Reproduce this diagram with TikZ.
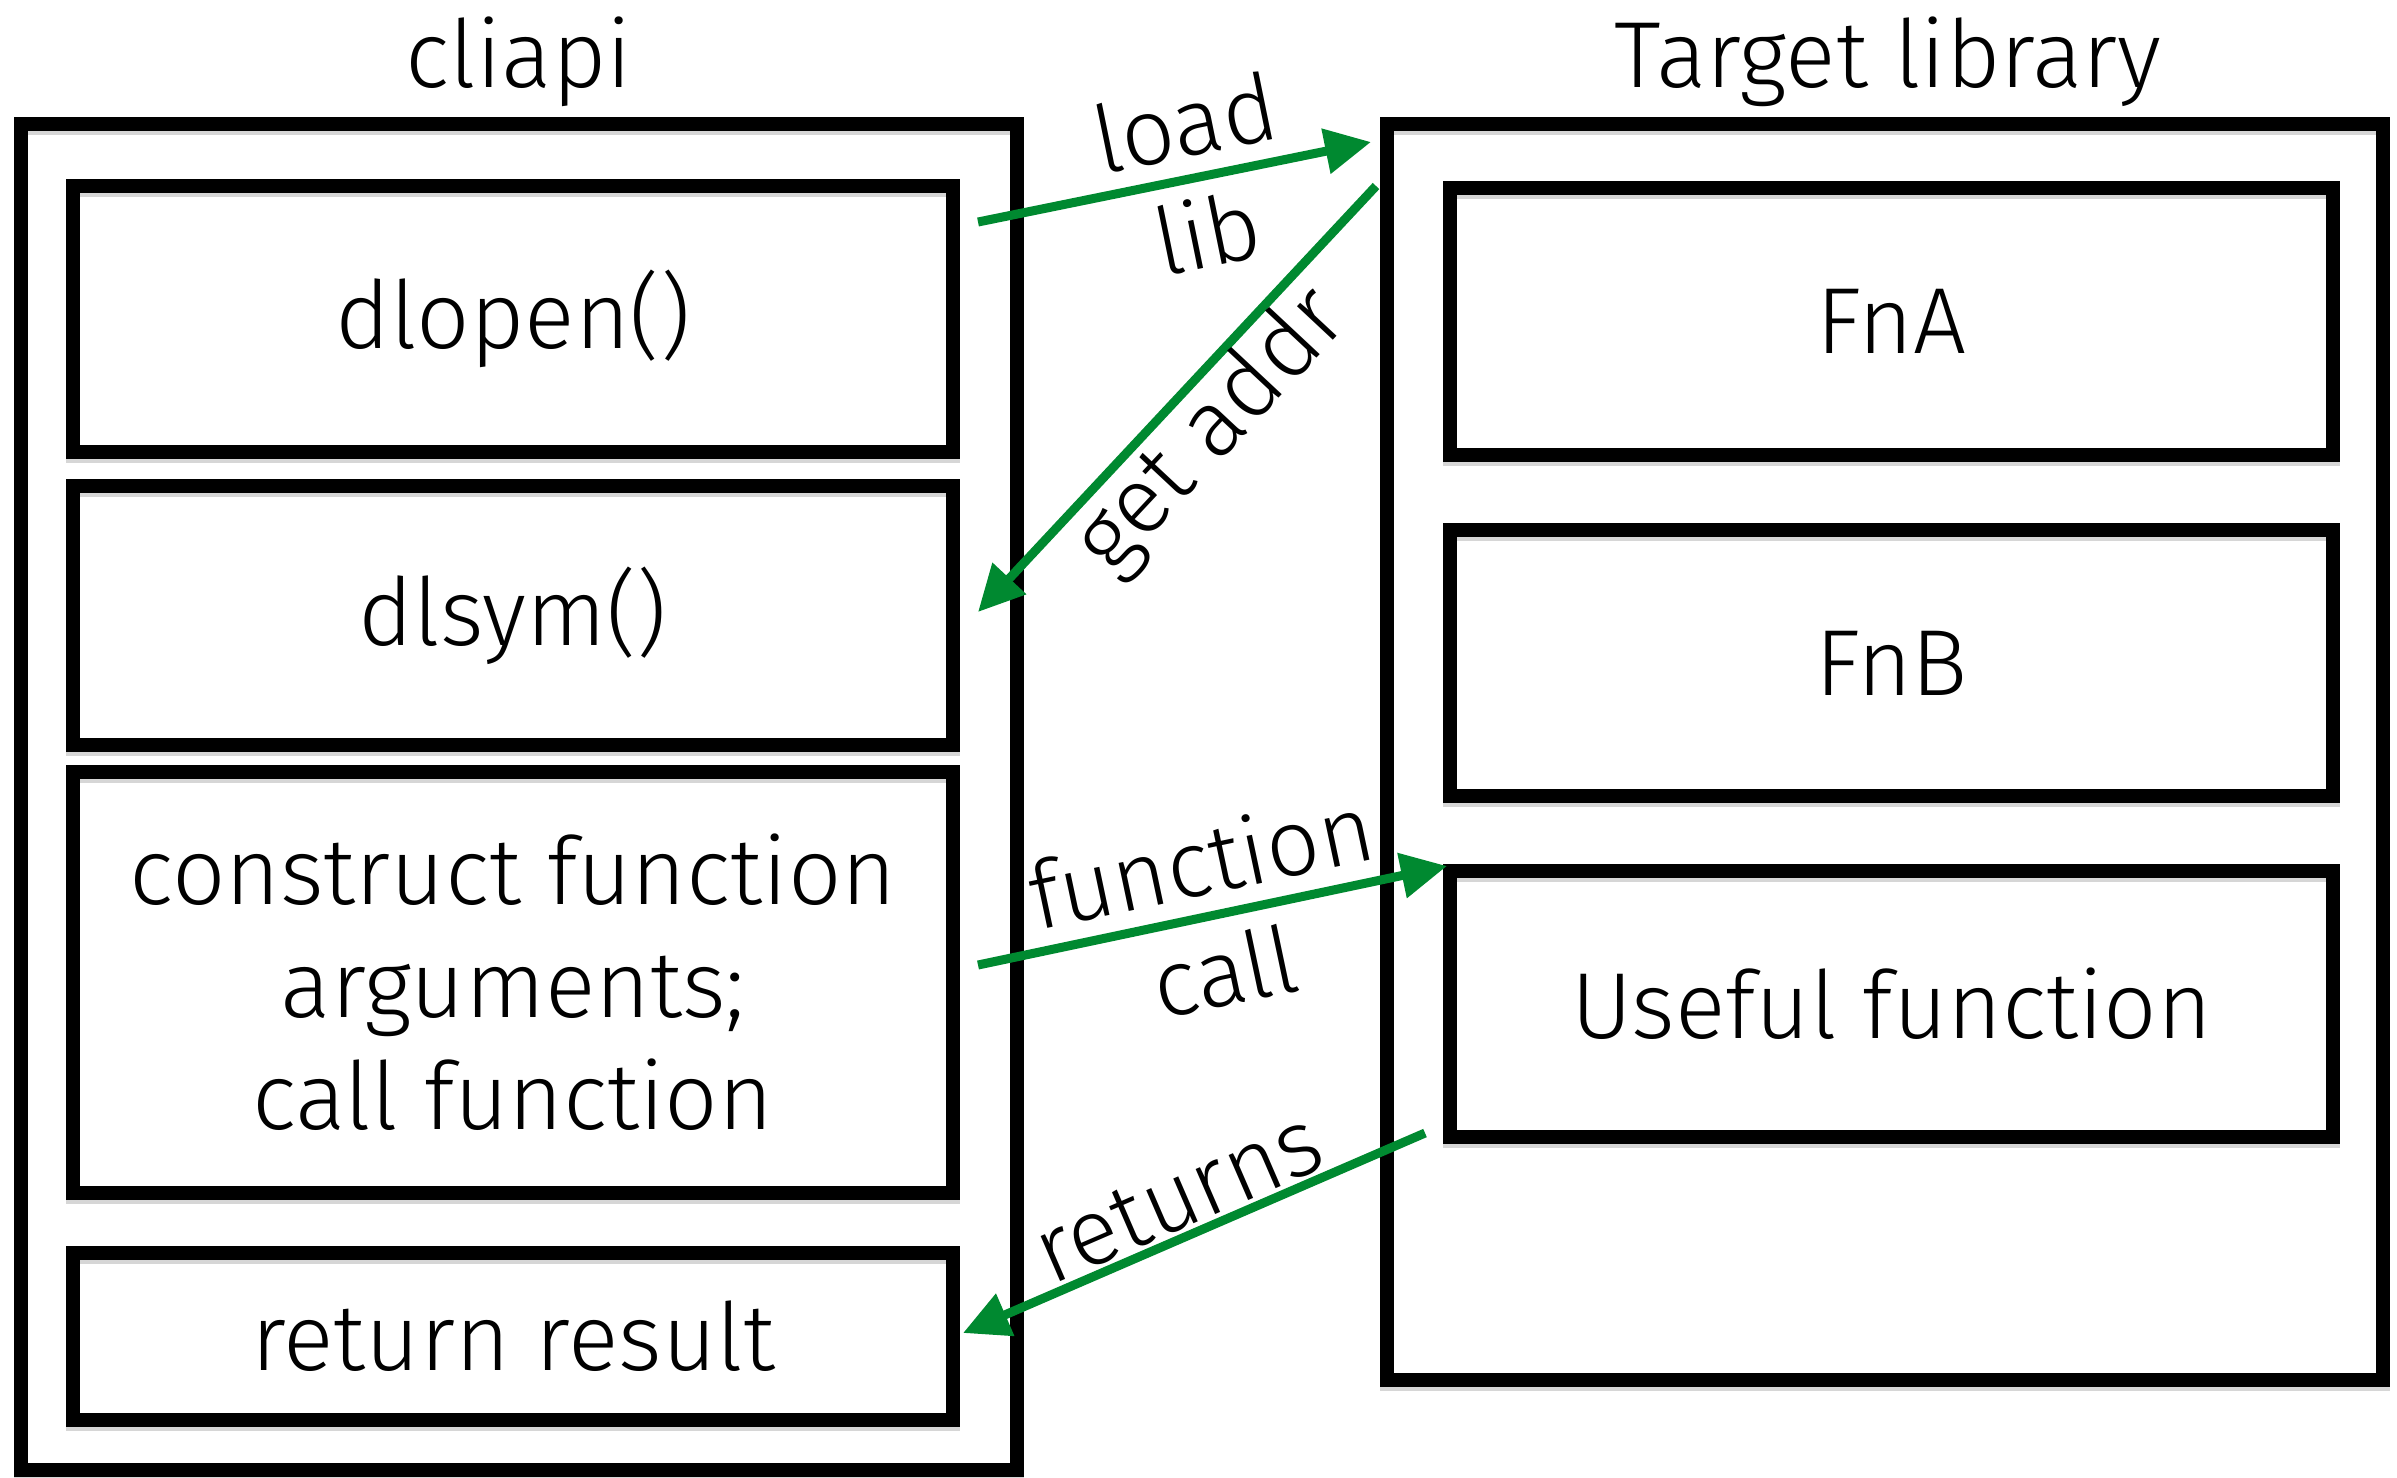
\documentclass[tikz,border=0pt]{standalone}
\usepackage{fontspec}
\setmainfont{Fira Sans Light}
\usetikzlibrary{arrows.meta}
\definecolor{flowgreen}{RGB}{0,137,48}
\begin{document}
\begin{tikzpicture}[
  txt/.style={font=\fontsize{26.7}{32}\selectfont},
  shadowed/.style={preaction={draw=black!16, line width=0.14cm, transform canvas={yshift=-0.035cm}}},
  outerbox/.style={draw, line width=0.14cm, inner sep=0pt, outer sep=0pt, shadowed},
  innerbox/.style={draw, line width=0.14cm, inner sep=0pt, outer sep=0pt, shadowed, txt, align=center},
  titlelbl/.style={txt, inner sep=0pt, anchor=base},
  flow/.style={draw=flowgreen, line width=0.09cm, -{Triangle[length=0.46cm,width=0.44cm]}},
  flowlbl/.style={txt, sloped, align=center, text=black}
]
\useasboundingbox (0,0) rectangle (23.97,-14.77);

% outer containers
\node[outerbox, minimum width=9.96cm, minimum height=13.46cm] (cli) at (5.19,-7.97) {};
\node[outerbox, minimum width=9.96cm, minimum height=12.56cm] (lib) at (18.85,-7.52) {};

% titles
\node[titlelbl] (clititle) at (5.19,-0.87) {cliapi};
\node[titlelbl] (libtitle) at (18.88,-0.87) {Target library};

% left inner boxes
\node[innerbox, minimum width=8.80cm, minimum height=2.66cm] (dlopen) at (5.13,-3.19) {\raisebox{-0.06cm}{dlopen()}};
\node[innerbox, minimum width=8.80cm, minimum height=2.59cm] (dlsym) at (5.13,-6.155) {\raisebox{-0.06cm}{dlsym()}};
\node[innerbox, minimum width=8.80cm, minimum height=4.21cm] (construct) at (5.13,-9.825) {construct function\\arguments;\\call function};
\node[innerbox, minimum width=8.80cm, minimum height=1.67cm] (ret) at (5.13,-13.365) {return result};

% right inner boxes
\node[innerbox, minimum width=8.83cm, minimum height=2.67cm] (fna) at (18.915,-3.215) {FnA};
\node[innerbox, minimum width=8.83cm, minimum height=2.66cm] (fnb) at (18.915,-6.63) {FnB};
\node[innerbox, minimum width=8.83cm, minimum height=2.66cm] (useful) at (18.915,-10.04) {Useful function};

% connector end points
\coordinate (loadS) at (9.78,-2.22);
\coordinate (loadE) at (13.71,-1.42);
\coordinate (addrS) at (13.76,-1.86);
\coordinate (addrE) at (9.78,-6.12);
\coordinate (callS) at (9.78,-9.65);
\coordinate (callE) at (14.47,-8.66);
\coordinate (retS) at (14.25,-11.33);
\coordinate (retE) at (9.63,-13.33);

% connectors
\draw[flow] (loadS) -- node[flowlbl, pos=0.555] {load\\lib} (loadE);
\draw[flow] (addrS) -- node[flowlbl, midway, below, inner sep=0pt] {get addr} (addrE);
\draw[flow] (callS) -- node[flowlbl, midway] {function\\call} (callE);
\draw[flow] (retS) -- node[flowlbl, midway, above, inner sep=0.03cm] {returns} (retE);
\end{tikzpicture}
\end{document}
